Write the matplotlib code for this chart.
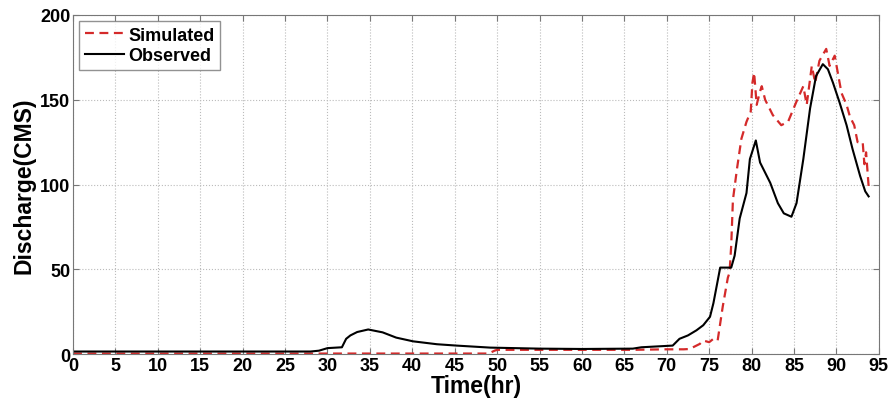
import numpy as np
import matplotlib
matplotlib.use("Agg")
import matplotlib.pyplot as plt

matplotlib.rcParams['font.family'] = ['Liberation Sans', 'DejaVu Sans']
matplotlib.rcParams['font.weight'] = 'bold'

# observed hydrograph (hr, CMS)
obs_t = [0, 28, 29, 30, 31.7, 32.2, 32.7, 33.5, 34.8, 36.5, 38.1, 40.1, 42.9, 45.2, 49.2,
         55, 60, 66, 67, 70.7, 71.5, 72.5, 73.5, 74.3, 75.1, 75.5, 76.3, 77.6, 78.0, 78.6,
         79.4, 79.8, 80.5, 81, 82.2, 83.1, 83.8, 84.7, 85.3, 86.1, 86.9, 87.6, 88.4, 89.0,
         89.6, 90.4, 91.2, 91.9, 92.8, 93.4, 93.8]
obs_q = [1.5, 1.5, 2, 3.5, 4, 9, 11, 13, 14.5, 12.8, 9.7, 7.5, 5.8, 5, 3.8,
         3.2, 3, 3.2, 4, 5, 9, 11, 14, 17, 22, 30, 51, 51, 58, 80,
         95, 115, 126, 113, 101, 89, 83, 81, 89, 115, 145, 164, 171, 168,
         160, 148, 135, 121, 105, 96, 93]

# simulated hydrograph (hr, CMS)
sim_t = [0, 28, 49, 49.7, 50, 60, 66, 70, 72, 72.7, 73.5, 73.9, 74.3, 75, 75.5, 76.0,
         76.6, 77.2, 77.4, 77.6, 77.8, 78.3, 78.8, 79.4, 79.9, 80.1, 80.3, 80.6, 81.0,
         81.2, 81.6, 82.5, 83.5, 84.3, 85.3, 86.1, 86.5, 87.1, 87.5, 88.0, 88.8, 89.2,
         89.8, 90.6, 91.2, 91.6, 92.1, 92.5, 93.1, 93.3, 93.5, 93.8]
sim_q = [0.3, 0.3, 0.3, 2, 2.5, 2.5, 2.5, 2.8, 2.8, 3, 5, 6, 8, 7, 9, 8,
         28, 45, 48, 64, 91, 110, 127, 137, 143, 160, 166, 147, 155,
         158, 150, 141, 135, 137, 149, 158, 147, 170, 160, 173, 180, 170,
         176, 154, 147, 140, 135, 125, 125, 112, 119, 99]

fig = plt.figure(figsize=(8.94, 4.10), dpi=100)
ax = fig.add_axes([0.0817, 0.134, 0.9013, 0.827])

ax.plot(sim_t, sim_q, '--', color='#d42a2a', lw=1.6, label='Simulated', dashes=(4, 2.5))
ax.plot(obs_t, obs_q, '-', color='black', lw=1.5, label='Observed')

ax.set_xlim(0, 95)
ax.set_ylim(0, 200)
ax.set_xticks(np.arange(0, 96, 5))
ax.set_yticks([0, 50, 100, 150, 200])
ax.grid(True, linestyle=':', color='#bbbbbb', lw=0.8)

for s in ax.spines.values():
    s.set_color('#777777')
ax.tick_params(direction='in', top=True, right=True, color='#777777',
               labelsize=13, length=4, pad=2)
for lab in ax.get_xticklabels() + ax.get_yticklabels():
    lab.set_fontweight('bold')

ax.set_xlabel('Time(hr)', fontsize=16.5, fontweight='bold', labelpad=0)
ax.set_ylabel('Discharge(CMS)', fontsize=16.5, fontweight='bold', labelpad=3)

leg = ax.legend(loc='upper left', fontsize=13, frameon=True, fancybox=False,
                borderaxespad=0.35, handlelength=2.2, handletextpad=0.2,
                borderpad=0.3, labelspacing=0.2)
leg.get_frame().set_edgecolor('#777777')
leg.get_frame().set_linewidth(1.0)
for t in leg.get_texts():
    t.set_fontweight('bold')

fig.savefig('out.png', dpi=100)
